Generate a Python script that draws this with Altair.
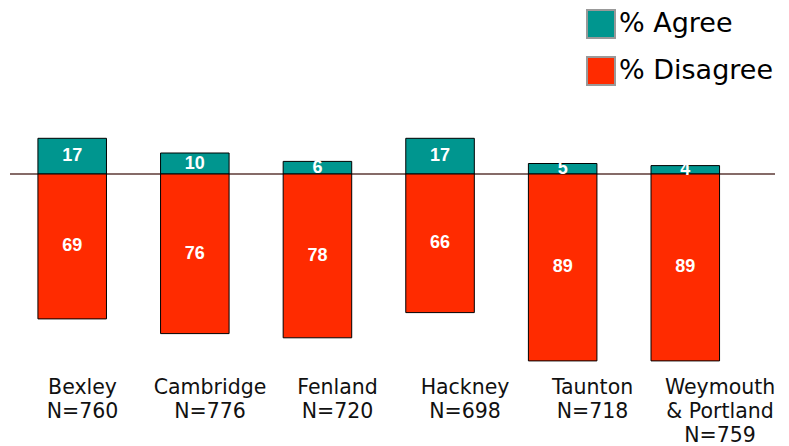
import altair as alt
import pandas as pd

regions = ["Bexley", "Cambridge", "Fenland", "Hackney", "Taunton", "Weymouth & Portland"]
region_labels = ["Bexley|N=760", "Cambridge|N=776", "Fenland|N=720", "Hackney|N=698",
                 "Taunton|N=718", "Weymouth|& Portland|N=759"]
agree = [17, 10, 6, 17, 5, 4]
disagree = [69, 76, 78, 66, 89, 89]
measures = ["% Agree", "% Disagree"]
colors = ["#00968F", "#FF2B00"]

rows = []
for r, a, d in zip(regions, agree, disagree):
    rows.append({"region": r, "measure": measures[0], "value": a, "shown": a})
    rows.append({"region": r, "measure": measures[1], "value": -d, "shown": d})
df = pd.DataFrame(rows)
df["mid"] = df["value"] / 2

labels_df = pd.DataFrame({"region": regions, "label": region_labels})

xscale = alt.Scale(type="band", domain=regions, paddingInner=0.441, paddingOuter=0.34, align=0.335)
yscale = alt.Scale(domain=[-90, 30], nice=False, zero=False)

color = alt.Color(
    "measure:N",
    scale=alt.Scale(domain=measures, range=colors),
    legend=alt.Legend(
        title=None, orient="none", legendX=576, legendY=-102,
        symbolType="square", symbolSize=784, symbolStrokeColor="#999999",
        symbolStrokeWidth=2, symbolOpacity=1, labelFontSize=27, labelFont="DejaVu Sans",
        labelColor="black", rowPadding=11, labelOffset=3, padding=0,
    ),
)

rule = alt.Chart(pd.DataFrame({"y": [0]})).mark_rule(color="#5C3A36", strokeWidth=1.5).encode(
    y=alt.Y("y:Q", scale=yscale, axis=None)
)

bars = alt.Chart(df).mark_bar(stroke="black", strokeWidth=1).encode(
    x=alt.X("region:N", scale=xscale, axis=None, sort=regions),
    y=alt.Y("value:Q", scale=yscale, axis=None, stack=None),
    color=color,
)

vals = alt.Chart(df).mark_text(
    color="white", font="Liberation Sans", fontWeight="bold", fontSize=18,
    baseline="middle", align="center",
).encode(
    x=alt.X("region:N", scale=xscale, axis=None, sort=regions, bandPosition=0.5),
    y=alt.Y("mid:Q", scale=yscale, axis=None),
    text="shown:Q",
)

labs = alt.Chart(labels_df).mark_text(
    font="DejaVu Sans", fontSize=20.5, lineBreak="|", lineHeight=24,
    baseline="alphabetic", align="center", color="#111111",
).encode(
    x=alt.X("region:N", scale=alt.Scale(type="point", domain=regions, padding=0.5, align=0.569),
            axis=None, sort=regions),
    y=alt.value(283),
    text="label:N",
)

chart = alt.layer(rule, bars, vals, labs).resolve_scale(x="independent").properties(
    width=765, height=252,
    padding={"left": 2, "top": 103, "right": 6, "bottom": 84},
    autosize=alt.AutoSizeParams(type="none"),
).configure_view(stroke=None)

chart.save("out.html", embed_options={"renderer": "svg", "actions": False})
